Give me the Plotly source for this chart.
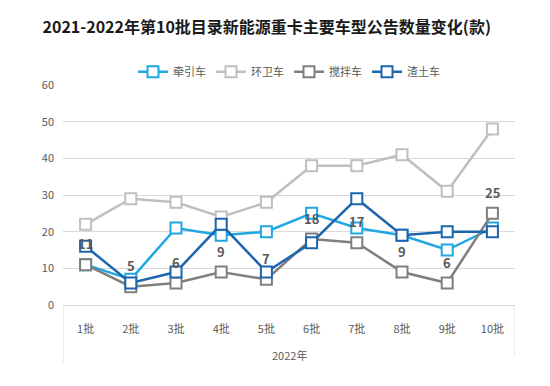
import plotly.graph_objects as go

batches = ["1批", "2批", "3批", "4批", "5批", "6批", "7批", "8批", "9批", "10批"]
year_label = "2022年"
qianyin = [11, 7, 21, 19, 20, 25, 21, 19, 15, 21]
huanwei = [22, 29, 28, 24, 28, 38, 38, 41, 31, 48]
jiaoban = [11, 5, 6, 9, 7, 18, 17, 9, 6, 25]
zhatu = [16, 6, 9, 22, 9, 17, 29, 19, 20, 20]

series = [
    ("牵引车", qianyin, "#1EA7E0"),
    ("环卫车", huanwei, "#BFBFBF"),
    ("搅拌车", jiaoban, "#7F7F7F"),
    ("渣土车", zhatu, "#1D65AC"),
]

FONT = "Noto Sans CJK SC"

fig = go.Figure()
for name, vals, color in series:
    fig.add_trace(go.Scatter(
        x=batches, y=vals, name=name, mode="lines+markers",
        line=dict(color=color, width=2.5),
        marker=dict(symbol="square", size=11, color="white",
                    line=dict(color=color, width=2)),
    ))

for i, v in enumerate(jiaoban):
    fig.add_annotation(x=batches[i], y=v, xref="x", yref="y", text=f"<b>{v}</b>",
                       showarrow=False, yshift=21,
                       font=dict(family=FONT, size=13, color="#595959"))

# second-level category label and group boundary lines
fig.add_annotation(x=(len(batches) - 1) / 2, y=-0.225, xref="x", yref="paper",
                   text=year_label, showarrow=False, yanchor="middle",
                   font=dict(family=FONT, size=11, color="#595959"))
for xb, ybot in [(-0.5, -0.265), (len(batches) - 0.5, -0.23)]:
    fig.add_shape(type="line", xref="x", yref="paper", x0=xb, x1=xb, y0=0, y1=ybot,
                  line=dict(color="#D9D9D9", width=1))

fig.update_layout(
    width=550, height=386,
    margin=dict(l=63, r=35, t=85, b=81),
    paper_bgcolor="white", plot_bgcolor="white",
    font=dict(family=FONT, color="#595959"),
    title=dict(text="<b>2021-2022年第10批目录新能源重卡主要车型公告数量变化(款)</b>",
               x=0.485, xanchor="center", y=0.93, yanchor="middle",
               font=dict(family=FONT, size=16, color="#1a1a1a")),
    legend=dict(orientation="h", x=0.5, xanchor="center", y=1.06, yanchor="middle",
                font=dict(family=FONT, size=11, color="#595959"),
                itemwidth=30, tracegroupgap=0),
    showlegend=True,
)
fig.update_xaxes(type="category", range=[-0.5, len(batches) - 0.5],
                 showline=True, linecolor="#D9D9D9", linewidth=1,
                 tickfont=dict(family=FONT, size=11, color="#595959"),
                 ticks="", ticklabelstandoff=14,
                 showgrid=False, zeroline=False)
fig.update_yaxes(range=[0, 60], dtick=10, showgrid=True, gridcolor="#D9D9D9",
                 gridwidth=1, zeroline=False, showline=False,
                 tickfont=dict(family=FONT, size=11, color="#595959"),
                 ticks="", ticklabelstandoff=8)

fig.write_html("out.html", config={"displayModeBar": False},
               post_script="document.body.style.margin='0';")
